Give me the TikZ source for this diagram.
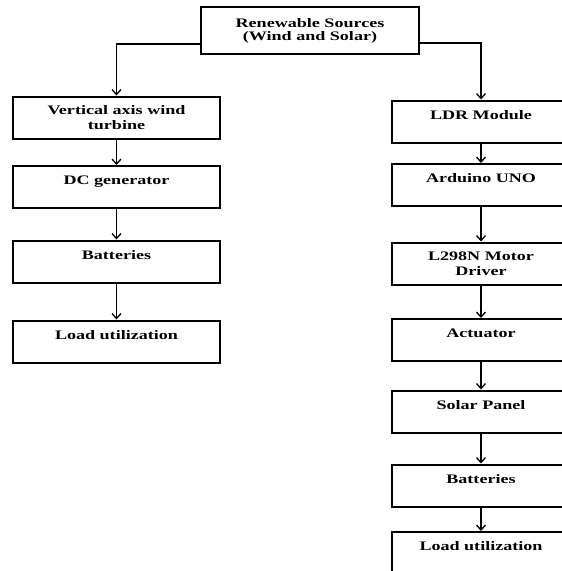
\documentclass[tikz,border=0pt]{standalone}
\usepackage{fontspec}
\setmainfont{Liberation Serif}[FakeStretch=1.39]
\usetikzlibrary{positioning, arrows.meta}

\begin{document}
\begin{tikzpicture}[x=1pt,y=1pt,node distance=70pt,on grid,
    block/.style={draw,line width=2pt,align=center,inner xsep=4pt,inner ysep=7pt,
      minimum height=42pt,font=\fontsize{13pt}{15pt}\selectfont\bfseries},
    oneline/.style={text height=11.5pt,text depth=16pt},
    lblock/.style={block,minimum width=207pt},
    rblock/.style={block,minimum width=178pt},
    flow/.style={line width=1.3pt,-{Straight Barb[length=5pt,width=9pt]}}]
    \useasboundingbox (0,0) rectangle (562,-571);
    \clip (0,0) rectangle (562,-571);

      \node[block,minimum width=218pt,minimum height=47pt,font=\fontsize{13pt}{13pt}\selectfont\bfseries] (src) at (310,-30.5) {Renewable Sources\\(Wind and Solar)};

      % wind side
      \node[lblock] (vawt)                                  at (116.5,-117.5) {Vertical axis wind\\turbine};
      \node[lblock,oneline] (dcgen)  [below=69.5pt of vawt]  {DC generator};
      \node[lblock,oneline] (bat_w)  [below=74.5pt of dcgen] {Batteries};
      \node[lblock,oneline] (load_w) [below=80pt of bat_w]   {Load utilization};

      % solar side
      \node[rblock,oneline] (ldr)                           at (481,-121.5) {LDR Module};
      \node[rblock,oneline] (ardu)   [below=63.5pt of ldr]   {Arduino UNO};
      \node[rblock]         (drv)    [below=78.5pt of ardu]  {L298N Motor\\Driver};
      \node[rblock,oneline] (act)    [below=76.5pt of drv]   {Actuator};
      \node[rblock,oneline] (panel)  [below=71.5pt of act]   {Solar Panel};
      \node[rblock,oneline] (bat_s)  [below=74pt of panel]   {Batteries};
      \node[rblock,oneline] (load_s) [below=67.5pt of bat_s] {Load utilization};

      \draw[flow] ([yshift=-13.5pt]src.west) -| (vawt.north);
      \draw[flow] ([yshift=-12.5pt]src.east) -| (ldr.north);

      \path[flow] (vawt)  edge (dcgen)
                  (dcgen) edge (bat_w)
                  (bat_w) edge (load_w)
                  (ldr)   edge (ardu)
                  (ardu)  edge (drv)
                  (drv)   edge (act)
                  (act)   edge (panel)
                  (panel) edge (bat_s)
                  (bat_s) edge (load_s);
    \end{tikzpicture}
\end{document}
